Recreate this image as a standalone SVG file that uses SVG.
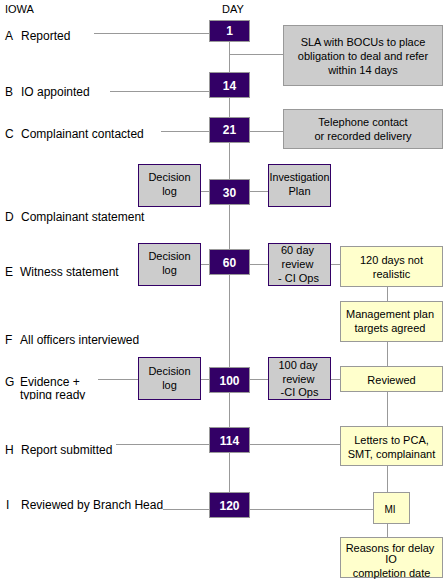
<svg xmlns="http://www.w3.org/2000/svg" width="443" height="585" viewBox="0 0 443 585">
<defs>
<style>
text{font-family:"Liberation Sans",Arial,sans-serif;fill:#000}
.lbl{font-size:12px}
.hdr{font-size:11px}
.bx{font-size:11px;text-anchor:middle}
.day rect{fill:#330066;stroke:#999999;stroke-width:1}
.day text{font-size:12px;font-weight:bold;fill:#ffffff;text-anchor:middle}
.gray{fill:#cccccc;stroke:#999999;stroke-width:1}
.grayp{fill:#cccccc;stroke:#330066;stroke-width:1}
.yel{fill:#ffffcc;stroke:#999999;stroke-width:1}
#connectors line{stroke:#999999;stroke-width:1;fill:none}
</style>
<clipPath id="gclip"><rect x="0" y="300" width="200" height="99.5"/></clipPath>
</defs>
<rect width="443" height="585" fill="#ffffff"/>

<g id="connectors">
<line x1="229.5" y1="42" x2="229.5" y2="492"/>
<line x1="387.5" y1="286" x2="387.5" y2="537"/>
<line x1="94" y1="33.5" x2="209" y2="33.5"/>
<line x1="229.5" y1="54.5" x2="283" y2="54.5"/>
<line x1="110" y1="91.5" x2="209" y2="91.5"/>
<line x1="161" y1="131.5" x2="283" y2="131.5"/>
<line x1="200" y1="191.5" x2="268" y2="191.5"/>
<line x1="200" y1="264.5" x2="340" y2="264.5"/>
<line x1="98" y1="379.5" x2="138" y2="379.5"/>
<line x1="200" y1="379.5" x2="340" y2="379.5"/>
<line x1="116" y1="444.5" x2="340" y2="444.5"/>
<line x1="163" y1="509.5" x2="373" y2="509.5"/>
</g>

<g id="headers">
<text class="hdr" x="5" y="13">IOWA</text>
<text class="hdr" x="222" y="13">DAY</text>
</g>

<g id="labels">
<text class="lbl" x="5" y="40">A</text><text class="lbl" x="21" y="40">Reported</text>
<text class="lbl" x="5" y="96">B</text><text class="lbl" x="21" y="96">IO appointed</text>
<text class="lbl" x="5" y="138">C</text><text class="lbl" x="21" y="138">Complainant contacted</text>
<text class="lbl" x="5" y="221">D</text><text class="lbl" x="21" y="221">Complainant statement</text>
<text class="lbl" x="5" y="276">E</text><text class="lbl" x="20" y="276">Witness statement</text>
<text class="lbl" x="5" y="344">F</text><text class="lbl" x="20" y="344">All officers interviewed</text>
<g clip-path="url(#gclip)">
<text class="lbl" x="5" y="386">G</text><text class="lbl" x="20" y="386">Evidence +</text>
<text class="lbl" x="20" y="399">typing ready</text>
</g>
<text class="lbl" x="5" y="454">H</text><text class="lbl" x="21" y="454">Report submitted</text>
<text class="lbl" x="6" y="509">I</text><text class="lbl" x="21" y="509">Reviewed by Branch Head</text>
</g>

<g id="day1" class="day"><rect x="209.5" y="20.5" width="40" height="21"/><text x="229.5" y="35">1</text></g>
<g id="day14" class="day"><rect x="209.5" y="72.5" width="40" height="25"/><text x="229.5" y="90">14</text></g>
<g id="day21" class="day"><rect x="209.5" y="117.5" width="40" height="25"/><text x="229.5" y="134">21</text></g>
<g id="day30" class="day"><rect x="209.5" y="179.5" width="40" height="25"/><text x="229.5" y="196.5">30</text></g>
<g id="day60" class="day"><rect x="209.5" y="249.5" width="40" height="25"/><text x="229.5" y="266.5">60</text></g>
<g id="day100" class="day"><rect x="209.5" y="367.5" width="40" height="25"/><text x="229.5" y="384.5">100</text></g>
<g id="day114" class="day"><rect x="209.5" y="427.5" width="40" height="25"/><text x="229.5" y="445">114</text></g>
<g id="day120" class="day"><rect x="209.5" y="492.5" width="40" height="25"/><text x="229.5" y="509.5">120</text></g>

<g id="sla"><rect class="gray" x="283.5" y="25.5" width="159" height="60"/>
<text class="bx" x="363" y="46">SLA with BOCUs to place</text>
<text class="bx" x="363" y="60">obligation to deal and refer</text>
<text class="bx" x="363" y="74">within 14 days</text></g>

<g id="telephone"><rect class="gray" x="283.5" y="109.5" width="159" height="39"/>
<text class="bx" x="363" y="126">Telephone contact</text>
<text class="bx" x="363" y="139.5">or recorded delivery</text></g>

<g id="declog1"><rect class="grayp" x="138.5" y="164.5" width="62" height="42"/>
<text class="bx" x="169.5" y="181">Decision</text><text class="bx" x="169.5" y="195">log</text></g>

<g id="invplan"><rect class="grayp" x="268.5" y="164.5" width="62" height="42"/>
<text class="bx" x="299.5" y="181" textLength="60" lengthAdjust="spacingAndGlyphs">Investigation</text><text class="bx" x="299.5" y="195">Plan</text></g>

<g id="declog2"><rect class="grayp" x="138.5" y="243.5" width="62" height="42"/>
<text class="bx" x="169.5" y="260">Decision</text><text class="bx" x="169.5" y="274">log</text></g>

<g id="review60"><rect class="grayp" x="268.5" y="243.5" width="62" height="42"/>
<text class="bx" x="297.5" y="254">60 day</text>
<text class="bx" x="297.5" y="268">review</text>
<text class="bx" x="298.5" y="282"> - CI Ops</text></g>

<g id="notrealistic"><rect class="yel" x="340.5" y="246.5" width="102" height="40"/>
<text class="bx" x="391.5" y="263.5">120 days not</text>
<text class="bx" x="391.5" y="277.5">realistic</text></g>

<g id="mgmtplan"><rect class="yel" x="340.5" y="301.5" width="102" height="40"/>
<text class="bx" x="390" y="318">Management plan</text>
<text class="bx" x="390" y="331.5">targets agreed</text></g>

<g id="declog3"><rect class="grayp" x="138.5" y="357.5" width="62" height="42"/>
<text class="bx" x="169.5" y="374.5">Decision</text><text class="bx" x="169.5" y="388.5">log</text></g>

<g id="review100"><rect class="grayp" x="268.5" y="357.5" width="62" height="42"/>
<text class="bx" x="298" y="369">100 day</text>
<text class="bx" x="298.5" y="382.5">review</text>
<text class="bx" x="299.5" y="396">-CI Ops</text></g>

<g id="reviewed"><rect class="yel" x="340.5" y="366.5" width="102" height="25"/>
<text class="bx" x="391.5" y="384">Reviewed</text></g>

<g id="letters"><rect class="yel" x="340.5" y="426.5" width="102" height="39"/>
<text class="bx" x="391.5" y="444">Letters to PCA,</text>
<text class="bx" x="391.5" y="458">SMT,  complainant</text></g>

<g id="mi"><rect class="yel" x="373.5" y="492.5" width="36" height="31"/>
<text class="bx" x="390" y="513" style="font-size:10px">MI</text></g>

<g id="reasons"><rect class="yel" x="340.5" y="537.5" width="102" height="40"/>
<text class="bx" x="390" y="551.5">Reasons for delay</text>
<text class="bx" x="391" y="563">IO</text>
<text class="bx" x="391.5" y="576.5">completion date</text></g>
</svg>
